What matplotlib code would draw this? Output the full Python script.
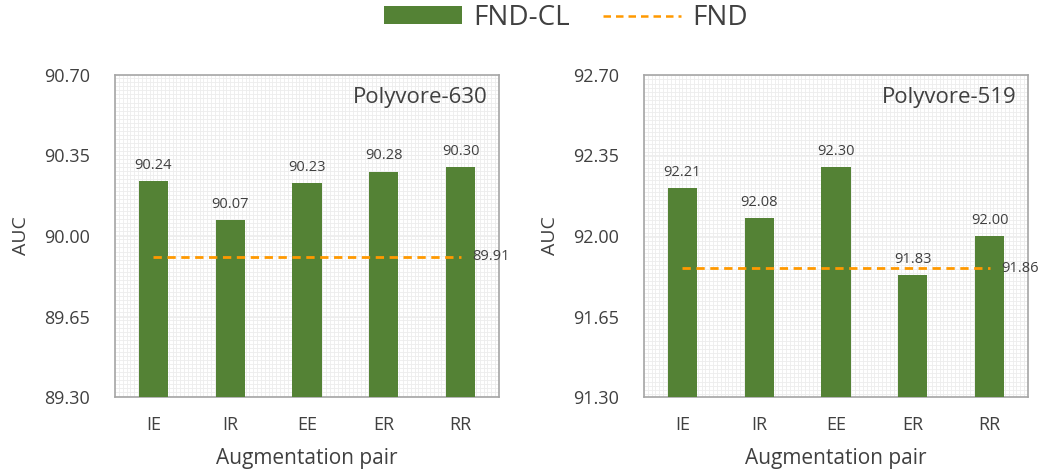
import numpy as np
import matplotlib.pyplot as plt
import matplotlib as mpl
from matplotlib.ticker import MultipleLocator
from matplotlib.lines import Line2D
from matplotlib.patches import Patch

mpl.rcParams.update({'font.family': ['Open Sans', 'DejaVu Sans'], 'font.size': 13})

pairs = ['IE', 'IR', 'EE', 'ER', 'RR']
fndcl_630 = [90.24, 90.07, 90.23, 90.28, 90.30]
fnd_630 = 89.91
fndcl_519 = [92.21, 92.08, 92.30, 91.83, 92.00]
fnd_519 = 91.86

panels = [
    ('Polyvore-630', fndcl_630, fnd_630, 89.30, 90.70),
    ('Polyvore-519', fndcl_519, fnd_519, 91.30, 92.70),
]

green = '#548235'
orange = '#FF9900'
txt = '#404040'
edge = '#A6A6A6'

fig = plt.figure(figsize=(10.42, 4.71), dpi=100)
lefts = [0.1104, 0.618]

for (title, vals, base, lo, hi), left in zip(panels, lefts):
    ax = fig.add_axes([left, 0.157, 0.3685, 0.684])
    x = np.arange(len(pairs))
    ax.bar(x, vals, width=0.38, color=green, zorder=3)
    ax.plot([x[0], x[-1]], [base, base], color=orange, ls='--', lw=2,
            dashes=(3, 2), zorder=4)
    ax.text(x[-1] + 0.15, base, '%.2f' % base, va='center', ha='left',
            fontsize=10.5, color=txt, zorder=5)
    for xi, v in zip(x, vals):
        ax.text(xi, v + 0.035, '%.2f' % v, ha='center', va='bottom',
                fontsize=10.5, color=txt, zorder=5)
    ax.set_xlim(-0.5, 4.5)
    ax.set_ylim(lo, hi)
    ax.set_yticks(np.linspace(lo, hi, 5))
    ax.set_yticklabels(['%.2f' % t for t in np.linspace(lo, hi, 5)])
    ax.set_xticks(x)
    ax.set_xticklabels(pairs)
    ax.yaxis.set_minor_locator(MultipleLocator(0.0175))
    ax.xaxis.set_minor_locator(MultipleLocator(0.05))
    ax.grid(which='both', color='#EDEDED', lw=0.6, zorder=0)
    ax.tick_params(which='both', length=0, colors=txt, labelsize=13)
    ax.tick_params(axis='y', pad=18)
    ax.tick_params(axis='x', pad=14)
    for s in ax.spines.values():
        s.set_color(edge)
        s.set_linewidth(1.2)
    ax.set_ylabel('AUC', fontsize=14, color=txt, labelpad=10)
    ax.set_xlabel('Augmentation pair', fontsize=15, color=txt, labelpad=10)
    ax.text(0.97, 0.93, title, transform=ax.transAxes, ha='right', va='center',
            fontsize=16, color=txt, zorder=6)

handles = [Patch(facecolor=green, edgecolor='none'),
           Line2D([0], [0], color=orange, ls='--', lw=1.8, dashes=(3, 2))]
fig.legend(handles, ['FND-CL', 'FND'], loc='center', ncol=2,
           bbox_to_anchor=(0.543, 0.962), frameon=False, fontsize=20,
           handlelength=2.8, handleheight=0.6, handletextpad=0.4,
           columnspacing=1.2, labelcolor=txt, borderpad=0)

fig.savefig('out.png', dpi=100)
